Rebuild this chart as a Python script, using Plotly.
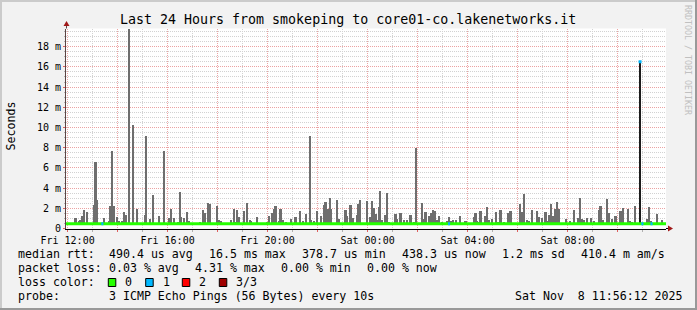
import plotly.graph_objects as go
from datetime import datetime, timedelta

# ---------------- data ----------------
graph_start = "2025-11-07 11:56:12"
graph_end = "2025-11-08 11:56:12"
day_dates = {"Fri": "2025-11-07", "Sat": "2025-11-08"}

# smoke (max ping per 5-minute step), in ms
smoke_time = [
    "Fri 12:19", "Fri 12:27", "Fri 12:31", "Fri 12:35", "Fri 12:39", "Fri 12:47", "Fri 12:52",
    "Fri 13:03", "Fri 13:07", "Fri 13:11", "Fri 13:16", "Fri 13:27", "Fri 13:31", "Fri 13:39",
    "Fri 13:43", "Fri 13:47", "Fri 13:51", "Fri 13:59", "Fri 14:04", "Fri 14:10", "Fri 14:15",
    "Fri 14:19", "Fri 14:27", "Fri 14:33", "Fri 14:38", "Fri 14:47", "Fri 15:06", "Fri 15:09",
    "Fri 15:18", "Fri 15:25", "Fri 15:39", "Fri 15:51", "Fri 16:03", "Fri 16:09", "Fri 16:15",
    "Fri 16:25", "Fri 16:30", "Fri 16:33", "Fri 16:39", "Fri 16:47", "Fri 16:51", "Fri 17:18",
    "Fri 17:25", "Fri 17:30", "Fri 17:37", "Fri 17:42", "Fri 17:59", "Fri 18:03", "Fri 18:09",
    "Fri 18:33", "Fri 18:39", "Fri 18:43", "Fri 18:47", "Fri 18:51", "Fri 19:03", "Fri 19:10",
    "Fri 19:17", "Fri 19:21", "Fri 19:35", "Fri 19:46", "Fri 19:59", "Fri 20:03", "Fri 20:10",
    "Fri 20:15", "Fri 20:19", "Fri 20:27", "Fri 20:31", "Fri 20:37", "Fri 20:45", "Fri 20:56",
    "Fri 21:07", "Fri 21:18", "Fri 21:25", "Fri 21:33", "Fri 21:42", "Fri 21:45", "Fri 21:51",
    "Fri 21:58", "Fri 22:08", "Fri 22:16", "Fri 22:19", "Fri 22:25", "Fri 22:30", "Fri 22:33",
    "Fri 22:47", "Fri 22:52", "Fri 23:07", "Fri 23:11", "Fri 23:19", "Fri 23:25", "Fri 23:35",
    "Fri 23:38", "Fri 23:42", "Fri 23:59",
    "Sat 00:03", "Sat 00:07", "Sat 00:10", "Sat 00:15", "Sat 00:19", "Sat 00:25", "Sat 00:27",
    "Sat 00:30", "Sat 00:34", "Sat 00:43", "Sat 00:47", "Sat 00:51", "Sat 01:07", "Sat 01:11",
    "Sat 01:19", "Sat 01:27", "Sat 01:35", "Sat 01:43", "Sat 01:51", "Sat 01:57", "Sat 02:11",
    "Sat 02:15", "Sat 02:19", "Sat 02:27", "Sat 02:32", "Sat 02:36", "Sat 02:41", "Sat 02:47",
    "Sat 02:51", "Sat 02:58", "Sat 03:11", "Sat 03:15", "Sat 03:19", "Sat 03:25", "Sat 03:33",
    "Sat 03:42", "Sat 03:55", "Sat 04:15", "Sat 04:19", "Sat 04:23", "Sat 04:27", "Sat 04:31",
    "Sat 04:36", "Sat 04:41", "Sat 04:47", "Sat 04:51", "Sat 04:58", "Sat 05:09", "Sat 05:14",
    "Sat 05:19", "Sat 05:28", "Sat 05:36", "Sat 05:43",
    "Sat 06:06", "Sat 06:10", "Sat 06:16", "Sat 06:22", "Sat 06:28", "Sat 06:34", "Sat 06:47",
    "Sat 06:52", "Sat 06:58", "Sat 07:07", "Sat 07:11", "Sat 07:16", "Sat 07:20", "Sat 07:26",
    "Sat 07:31", "Sat 07:35", "Sat 07:40", "Sat 07:51", "Sat 07:57", "Sat 08:06", "Sat 08:15",
    "Sat 08:21", "Sat 08:26", "Sat 08:30", "Sat 08:34", "Sat 08:39", "Sat 08:46", "Sat 08:56",
    "Sat 09:04", "Sat 09:15", "Sat 09:19", "Sat 09:25", "Sat 09:35", "Sat 09:40", "Sat 09:46",
    "Sat 09:55", "Sat 10:07", "Sat 10:13", "Sat 10:24", "Sat 10:30", "Sat 10:34", "Sat 10:42",
    "Sat 11:10", "Sat 11:15", "Sat 11:20", "Sat 11:34", "Sat 11:46",
]
smoke_top = [
    1.1, 0.8, 0.9, 1.3, 1.9, 1.7, 0.6,
    2.4, 6.6, 2.9, 0.6, 1.1, 0.6, 0.75,
    2.3, 7.7, 2.3, 1.2, 0.75, 0.8, 1.7,
    1.4, 19.8, 0.6, 10.3, 2.0, 1.4, 9.2,
    1.0, 3.4, 1.3, 7.7, 1.1, 2.0, 1.1,
    0.7, 3.7, 1.2, 1.1, 1.7, 0.8, 0.7,
    1.9, 1.6, 2.6, 2.5, 2.3, 0.9, 0.8,
    0.9, 2.0, 0.7, 1.9, 1.2, 1.8, 2.6,
    0.9, 0.8, 1.2, 0.6, 0.7, 1.3, 1.6,
    2.0, 2.3, 0.8, 2.0, 0.9, 0.7, 1.0,
    1.2, 1.8, 0.8, 1.5, 9.2, 0.9, 0.8,
    1.8, 1.3, 2.4, 2.7, 2.0, 3.1, 2.0,
    2.9, 1.0, 1.9, 1.3, 2.4, 1.1, 1.4,
    2.5, 2.9, 2.8,
    0.6, 1.2, 2.8, 2.1, 1.5, 0.9, 2.2,
    3.8, 0.9, 1.4, 3.6, 0.7, 1.5, 1.0,
    1.6, 0.9, 0.9, 1.4, 0.7, 8.0, 2.6,
    1.0, 1.7, 1.3, 1.6, 1.9, 1.8, 0.9,
    1.3, 0.7, 0.75, 1.2, 0.8, 0.9, 0.9,
    1.3, 0.8, 1.2, 1.6, 0.8, 0.7, 1.8,
    0.6, 1.3, 2.2, 0.9, 1.0, 1.7, 0.7,
    1.9, 0.7, 1.6, 1.8,
    2.5, 1.7, 3.5, 0.9, 0.8, 1.9, 1.8,
    1.2, 1.1, 1.7, 0.8, 1.4, 2.5, 1.3,
    2.0, 2.7, 2.0, 0.6, 1.0, 0.8, 1.9,
    0.6, 1.1, 3.1, 1.0, 0.9, 1.1, 1.1,
    0.8, 1.9, 2.3, 0.9, 3.0, 1.6, 1.0,
    1.3, 1.8, 2.1, 2.0, 0.8, 0.7, 2.3,
    1.0, 2.2, 0.8, 1.5, 0.9,
]
smoke_floor = 0.38          # min rtt (ms), bottom of the smoke

median_rtt = 0.47           # typical median (ms)
spike_time = "Sat 10:53"    # median jump
spike_value = 16.5
loss_time = ["Fri 13:21", "Sat 03:13", "Sat 10:57", "Sat 11:19"]   # 1/3 loss steps

y_tick_vals = [0, 2, 4, 6, 8, 10, 12, 14, 16, 18]
y_tick_text = ["0", "2 m", "4 m", "6 m", "8 m", "10 m", "12 m", "14 m", "16 m", "18 m"]
x_tick_time = ["Fri 12:00", "Fri 14:00", "Fri 16:00", "Fri 18:00", "Fri 20:00", "Fri 22:00",
               "Sat 00:00", "Sat 02:00", "Sat 04:00", "Sat 06:00", "Sat 08:00", "Sat 10:00"]
x_tick_text = ["Fri 12:00", "", "Fri 16:00", "", "Fri 20:00", "",
               "Sat 00:00", "", "Sat 04:00", "", "Sat 08:00", ""]

legend_rows = [
    [(16, "median rtt:"), (107.3, "490.4 us avg"), (207.3, "16.5 ms max"), (300, "378.7 us min"),
     (400, "438.3 us now"), (500, "1.2 ms sd"), (579.3, "410.4 m am/s")],
    [(16, "packet loss:"), (107.3, "0.03 % avg"), (193.3, "4.31 % max"), (279.3, "0.00 % min"),
     (365, "0.00 % now")],
    [(16, "loss color:"), (123.3, "0"), (160.7, "1"), (197.3, "2"), (234.3, "3/3")],
    [(16, "probe:"), (107.3, "3 ICMP Echo Pings (56 Bytes) every 10s"),
     (513.3, "Sat Nov\u00a0\u00a08 11:56:12 2025")],
]
loss_colors = ["#26ff00", "#00b8ff", "#ff0000", "#a00000"]

# ---------------- helpers ----------------
W, H = 697, 310
STEP = timedelta(minutes=5)


def to_dt(s):
    d, hm = s.split()
    return datetime.strptime(day_dates[d] + " " + hm, "%Y-%m-%d %H:%M")


def px(x):
    return x / W


def py(y):
    return 1 - y / H


MONO = "DejaVu Sans Mono"

fig = go.Figure()

# smoke bars
fig.add_trace(go.Bar(
    x=[to_dt(t) for t in smoke_time],
    y=[v - smoke_floor for v in smoke_top],
    base=smoke_floor,
    width=STEP.total_seconds() * 1000,
    marker=dict(color="#6e6e6e", line=dict(width=0)),
    hoverinfo="skip",
))

# median spike (drawn dark)
fig.add_trace(go.Bar(
    x=[to_dt(spike_time)],
    y=[spike_value - median_rtt],
    base=median_rtt,
    width=STEP.total_seconds() * 1000,
    marker=dict(color="#1c1c1c", line=dict(width=0)),
    hoverinfo="skip",
))

# median line
fig.add_trace(go.Scatter(
    x=[datetime.strptime(graph_start, "%Y-%m-%d %H:%M:%S"),
       datetime.strptime(graph_end, "%Y-%m-%d %H:%M:%S")],
    y=[median_rtt, median_rtt],
    mode="lines", line=dict(color=loss_colors[0], width=2.8),
    hoverinfo="skip",
))

# loss-coloured median segments
lx, ly = [], []
for t in loss_time:
    t0 = to_dt(t)
    lx += [t0, t0 + STEP, None]
    ly += [median_rtt, median_rtt, None]
fig.add_trace(go.Scatter(x=lx, y=ly, mode="lines",
                         line=dict(color=loss_colors[1], width=2.8), hoverinfo="skip"))
fig.add_trace(go.Scatter(x=[to_dt(spike_time) + timedelta(minutes=1)], y=[spike_value],
                         mode="markers", marker=dict(color=loss_colors[1], size=3, symbol="square"),
                         hoverinfo="skip"))

x_major = [to_dt(t) for t in x_tick_time]

fig.update_layout(
    width=W, height=H,
    margin=dict(l=0, r=0, t=0, b=0, autoexpand=False),
    paper_bgcolor="#f2f2f2",
    plot_bgcolor="#ffffff",
    showlegend=False,
    barmode="overlay",
    bargap=0,
    font=dict(family=MONO, color="#000000"),
    xaxis=dict(
        type="date",
        range=[graph_start, graph_end],
        domain=[px(66), px(666)],
        anchor="y",
        automargin=False,
        tickmode="array",
        tickvals=x_major,
        ticktext=x_tick_text,
        tickfont=dict(family=MONO, size=10, color="#000000"),
        showgrid=True, gridcolor="#eba3a3", griddash="1px,1px", gridwidth=1,
        ticks="outside", ticklen=2, tickcolor="#e06060", tickwidth=1,
        minor=dict(dtick=3600000, tick0="2025-11-07 12:00", showgrid=True,
                   gridcolor="#d2d2d2", griddash="1px,1px", gridwidth=1,
                   ticks="outside", ticklen=2, tickcolor="#b0b0b0"),
        showline=True, linecolor="#000000", linewidth=1,
        zeroline=False, fixedrange=True,
    ),
    yaxis=dict(
        range=[0, 19.8],
        domain=[py(228.5), py(28.5)],
        anchor="x",
        automargin=False,
        tickmode="array",
        tickvals=y_tick_vals,
        ticktext=y_tick_text,
        tickfont=dict(family=MONO, size=10, color="#000000"),
        showgrid=True, gridcolor="#eba3a3", griddash="1px,1px", gridwidth=1,
        ticks="outside", ticklen=2, tickcolor="#e06060", tickwidth=1,
        minor=dict(dtick=0.5, tick0=0, showgrid=True,
                   gridcolor="#d2d2d2", griddash="1px,1px", gridwidth=1,
                   ticks="outside", ticklen=1, tickcolor="#b0b0b0"),
        showline=True, linecolor="#5a4444", linewidth=1,
        zeroline=False, fixedrange=True,
    ),
)

shapes = []
# 3D frame
shapes.append(dict(type="rect", xref="paper", yref="paper", x0=0, x1=1, y0=py(2), y1=1,
                   fillcolor="#cbcbcb", line=dict(width=0), layer="above"))
shapes.append(dict(type="rect", xref="paper", yref="paper", x0=0, x1=px(2), y0=0, y1=1,
                   fillcolor="#cbcbcb", line=dict(width=0), layer="above"))
shapes.append(dict(type="rect", xref="paper", yref="paper", x0=0, x1=1, y0=0, y1=py(308),
                   fillcolor="#999999", line=dict(width=0), layer="above"))
shapes.append(dict(type="rect", xref="paper", yref="paper", x0=px(695), x1=1, y0=0, y1=1,
                   fillcolor="#999999", line=dict(width=0), layer="above"))
# axis extensions and arrows
shapes.append(dict(type="line", xref="paper", yref="paper", x0=px(666), x1=px(670),
                   y0=py(228.5), y1=py(228.5), line=dict(color="#000000", width=1)))
shapes.append(dict(type="path", xref="paper", yref="paper",
                   path=f"M {px(668)},{py(225.5)} L {px(673)},{py(228.5)} L {px(668)},{py(231.5)} Z",
                   fillcolor="#a01818", line=dict(width=0)))
shapes.append(dict(type="line", xref="paper", yref="paper", x0=px(66.5), x1=px(66.5),
                   y0=py(28.5), y1=py(24), line=dict(color="#5a4444", width=1)))
shapes.append(dict(type="path", xref="paper", yref="paper",
                   path=f"M {px(63.5)},{py(26)} L {px(66.5)},{py(21)} L {px(69.5)},{py(26)} Z",
                   fillcolor="#a01818", line=dict(width=0)))
# loss colour boxes
for i, bx in enumerate([108.3, 145.7, 182.3, 219.3]):
    shapes.append(dict(type="rect", xref="paper", yref="paper",
                       x0=px(bx), x1=px(bx + 7.5), y0=py(286.5), y1=py(278.5),
                       fillcolor=loss_colors[i], line=dict(color="#000000", width=1)))
fig.update_layout(shapes=shapes)

ann = []
ann.append(dict(text="Last 24 Hours from smokeping to core01-co.lakenetworks.it",
                x=px(348), y=py(19.5), xref="paper", yref="paper", showarrow=False,
                xanchor="center", yanchor="middle",
                font=dict(family=MONO, size=13.3, color="#000000")))
ann.append(dict(text="Seconds", x=px(10.5), y=py(126), xref="paper", yref="paper",
                showarrow=False, textangle=-90, xanchor="center", yanchor="middle",
                font=dict(family=MONO, size=11.6, color="#000000")))
ann.append(dict(text="RRDTOOL / TOBI OETIKER", x=px(688), y=py(60), xref="paper", yref="paper",
                showarrow=False, textangle=90, xanchor="center", yanchor="middle",
                font=dict(family=MONO, size=8.3, color="#c0c0c0")))
row_y = [254.3, 268.3, 282.3, 296]
for r, items in enumerate(legend_rows):
    for x, txt in items:
        ann.append(dict(text=txt.replace(" ", "\u00a0"), x=px(x), y=py(row_y[r]),
                        xref="paper", yref="paper", showarrow=False,
                        xanchor="left", yanchor="middle",
                        font=dict(family=MONO, size=11.6, color="#000000")))
fig.update_layout(annotations=ann)

fig.write_html("out.html")
